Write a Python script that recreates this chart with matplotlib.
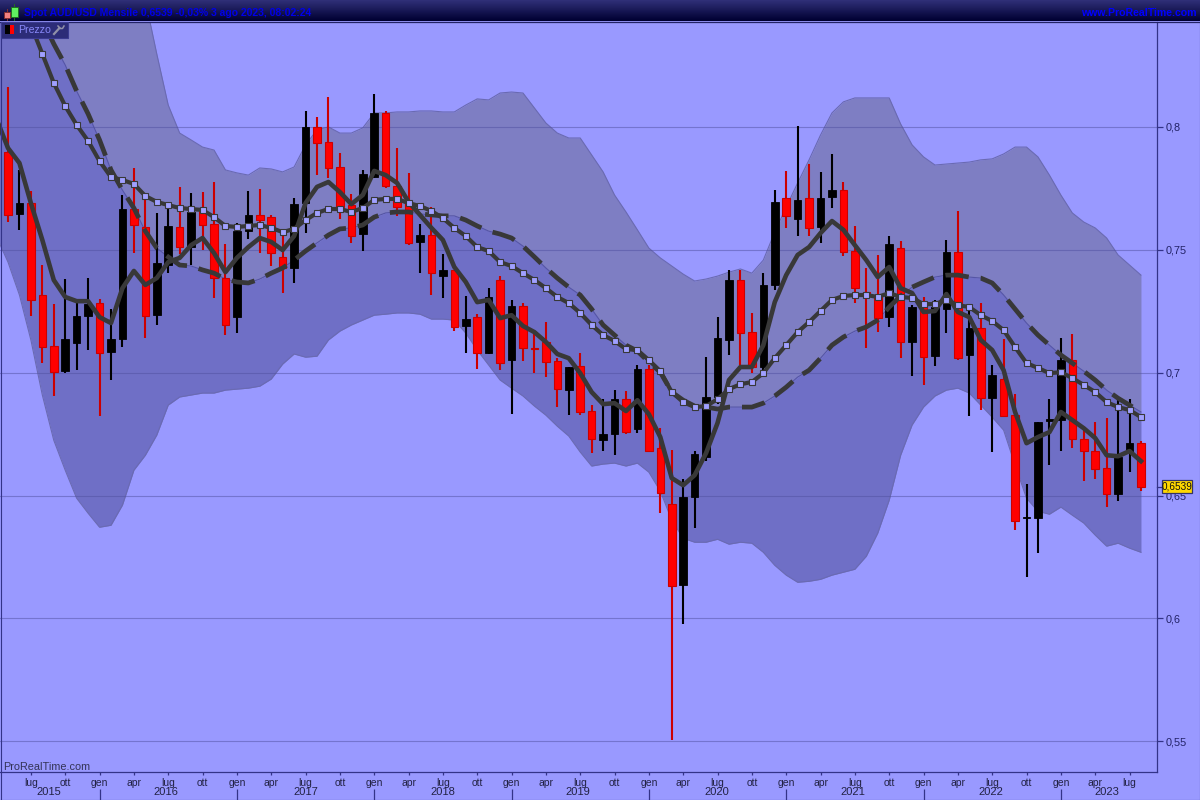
import numpy as np
import matplotlib
matplotlib.use("Agg")
import matplotlib.pyplot as plt
from matplotlib.patches import Rectangle

plt.rcParams["font.family"] = ["Liberation Sans", "DejaVu Sans"]

# monthly candles, May 2015 -> Aug 2023
opens = [.7898,.7646,.7690,.7316,.7108,.7006,.7120,.7230,.7283,.7084,.7137,.7666,.7593,.7234,.7438,.7593,.7511,.7658,.7605,.7385,
         .7226,.7576,.7642,.7633,.7471,.7426,.7690,.8000,.7939,.7837,.7682,.7564,.7796,.8057,.7760,.7690,.7532,.7560,.7393,.7418,
         .7190,.7226,.7080,.7377,.7051,.7271,.7100,.7125,.7047,.6929,.7027,.6844,.6725,.6750,.6892,.6770,.7015,.6693,.6465,.6135,
         .6493,.6656,.6900,.7133,.7377,.7165,.7023,.7357,.7711,.7625,.7711,.7593,.7715,.7743,.7495,.7328,.7308,.7226,.7507,.7125,
         .7283,.7067,.7259,.7491,.7072,.7181,.6896,.6974,.6827,.6408,.6408,.6803,.6807,.7051,.6730,.6681,.6611,.6506,.6677,.6713]
closes = [.7642,.7690,.7296,.7104,.7002,.7137,.7230,.7279,.7080,.7137,.7666,.7601,.7230,.7446,.7597,.7511,.7654,.7601,.7385,.7194,
          .7576,.7642,.7621,.7487,.7426,.7686,.8000,.7935,.7833,.7674,.7556,.7809,.8057,.7760,.7674,.7528,.7560,.7405,.7418,.7186,
          .7218,.7080,.7308,.7039,.7271,.7100,.7096,.7043,.6933,.7023,.6840,.6730,.6750,.6892,.6758,.7015,.6681,.6510,.6131,.6493,
          .6668,.6900,.7141,.7377,.7161,.7023,.7357,.7695,.7638,.7703,.7589,.7711,.7743,.7491,.7344,.7324,.7222,.7524,.7125,.7267,
          .7063,.7267,.7491,.7059,.7181,.6896,.6990,.6823,.6396,.6412,.6799,.6811,.7051,.6730,.6681,.6607,.6506,.6656,.6713,.6534]
highs = [.8163,.7825,.7739,.7438,.7279,.7381,.7296,.7385,.7300,.7259,.7723,.7833,.7707,.7650,.7674,.7756,.7731,.7735,.7776,.7524,
         .7609,.7739,.7747,.7642,.7556,.7711,.8065,.8041,.8122,.7894,.7727,.7825,.8134,.8065,.7914,.7813,.7605,.7674,.7483,.7418,
         .7312,.7238,.7344,.7393,.7296,.7283,.7173,.7206,.7059,.7023,.7080,.6868,.6892,.6929,.6925,.7031,.7031,.6774,.6685,.6567,
         .6681,.7063,.7226,.7418,.7418,.7243,.7405,.7743,.7821,.8004,.7849,.7817,.7890,.7776,.7597,.7426,.7479,.7556,.7536,.7275,
         .7308,.7296,.7540,.7658,.7255,.7283,.7031,.7137,.6913,.6546,.6799,.6892,.7141,.7157,.6766,.6799,.6815,.6900,.6892,.6721]
lows = [.7613,.7581,.7230,.7039,.6905,.6998,.7010,.7092,.6823,.6970,.7104,.7487,.7141,.7194,.7405,.7483,.7438,.7499,.7304,.7153,
        .7161,.7544,.7487,.7434,.7324,.7365,.7568,.7804,.7792,.7625,.7528,.7495,.7792,.7752,.7638,.7519,.7405,.7316,.7304,.7169,
        .7080,.7015,.7076,.7010,.6831,.7047,.6998,.6982,.6860,.6827,.6827,.6673,.6681,.6664,.6750,.6754,.6677,.6428,.5504,.5976,
        .6367,.6640,.6872,.7072,.7031,.6998,.6982,.7336,.7589,.7556,.7556,.7528,.7670,.7475,.7283,.7100,.7165,.7186,.7059,.6986,
        .6950,.7027,.7161,.7051,.6823,.6848,.6677,.6819,.6359,.6168,.6265,.6624,.6681,.6693,.6559,.6567,.6453,.6477,.6595,.6518]

# overlays start one month earlier (Apr 2015), off the left edge
fast_ma = [.8032,.7914,.7853,.7690,.7540,.7377,.7308,.7291,.7291,.7226,.7202,.7344,.7414,.7357,.7385,.7450,.7467,.7519,.7548,.7487,
           .7409,.7467,.7511,.7548,.7532,.7499,.7556,.7690,.7756,.7776,.7735,.7686,.7723,.7821,.7804,.7772,.7695,.7642,.7589,.7540,
           .7430,.7369,.7287,.7296,.7222,.7234,.7190,.7165,.7125,.7076,.7059,.6998,.6921,.6872,.6876,.6844,.6888,.6831,.6738,.6571,
           .6542,.6583,.6673,.6795,.6970,.7023,.7023,.7112,.7287,.7397,.7479,.7511,.7568,.7617,.7581,.7519,.7458,.7389,.7430,.7344,
           .7324,.7247,.7251,.7320,.7247,.7226,.7133,.7092,.7010,.6840,.6713,.6738,.6758,.6840,.6807,.6774,.6734,.6664,.6660,.6681,.6640]
mid_ma = [.8802,.8680,.8550,.8415,.8297,.8179,.8085,.8008,.7943,.7861,.7796,.7784,.7768,.7719,.7695,.7682,.7670,.7666,.7662,.7633,
          .7597,.7593,.7597,.7601,.7589,.7572,.7585,.7621,.7650,.7666,.7666,.7654,.7670,.7703,.7707,.7707,.7690,.7678,.7658,.7629,
          .7589,.7556,.7511,.7495,.7450,.7434,.7405,.7377,.7344,.7308,.7283,.7243,.7194,.7153,.7129,.7096,.7092,.7051,.7006,.6921,
          .6880,.6860,.6864,.6892,.6933,.6953,.6962,.6998,.7059,.7112,.7165,.7206,.7251,.7296,.7312,.7316,.7316,.7308,.7324,.7308,
          .7304,.7279,.7279,.7296,.7275,.7267,.7234,.7210,.7173,.7104,.7039,.7019,.6998,.7002,.6978,.6950,.6921,.6880,.6860,.6848,.6819]
slow_ma = [.8802,.8712,.8619,.8525,.8436,.8338,.8252,.8146,.8053,.7947,.7825,.7743,.7670,.7576,.7507,.7471,.7438,.7434,.7418,.7405,
           .7381,.7369,.7365,.7381,.7405,.7426,.7458,.7495,.7528,.7560,.7585,.7589,.7601,.7633,.7650,.7654,.7654,.7646,.7642,.7638,
           .7638,.7621,.7597,.7576,.7564,.7548,.7515,.7471,.7426,.7385,.7348,.7316,.7259,.7194,.7153,.7112,.7088,.7043,.7002,.6921,
           .6888,.6864,.6860,.6852,.6860,.6860,.6860,.6876,.6905,.6941,.6982,.7010,.7059,.7112,.7145,.7169,.7186,.7214,.7267,.7312,
           .7348,.7369,.7389,.7397,.7397,.7389,.7385,.7365,.7316,.7259,.7202,.7153,.7112,.7072,.7039,.7006,.6970,.6929,.6896,.6868,.6840]
upper_band = [.8900,.8761,.8761,.8761,.8761,.8761,.8761,.8761,.8761,.8761,.8761,.8761,.8680,.8517,.8297,.8089,.7975,.7947,.7918,.7906,
              .7825,.7813,.7804,.7833,.7829,.7817,.7837,.7927,.7988,.8000,.7975,.7975,.7996,.8057,.8057,.8061,.8061,.8065,.8065,.8061,
              .8061,.8089,.8114,.8110,.8138,.8142,.8138,.8077,.8016,.7975,.7955,.7955,.7886,.7817,.7723,.7654,.7581,.7507,.7467,.7434,
              .7401,.7373,.7381,.7393,.7409,.7422,.7405,.7458,.7572,.7674,.7772,.7866,.7967,.8057,.8102,.8118,.8118,.8118,.8118,.8012,
              .7927,.7878,.7845,.7849,.7853,.7857,.7866,.7870,.7890,.7918,.7918,.7878,.7804,.7723,.7650,.7613,.7589,.7548,.7479,.7438,.7397]
lower_band = [.7552,.7450,.7316,.7133,.6909,.6725,.6603,.6489,.6428,.6371,.6379,.6461,.6603,.6664,.6746,.6868,.6901,.6909,.6917,.6917,
              .6929,.6933,.6937,.6945,.6974,.7035,.7076,.7063,.7067,.7133,.7169,.7194,.7214,.7234,.7238,.7243,.7243,.7238,.7218,.7218,
              .7214,.7161,.7092,.7031,.6970,.6937,.6905,.6864,.6827,.6782,.6742,.6677,.6620,.6628,.6632,.6620,.6632,.6595,.6518,.6400,
              .6326,.6310,.6310,.6322,.6302,.6310,.6306,.6269,.6216,.6176,.6147,.6151,.6159,.6176,.6188,.6200,.6253,.6347,.6481,.6664,
              .6787,.6860,.6905,.6929,.6937,.6917,.6868,.6819,.6766,.6624,.6489,.6436,.6424,.6453,.6420,.6388,.6339,.6294,.6306,.6286,.6269]

price_ticks = [0.55, 0.6, 0.65, 0.7, 0.75, 0.8]
price_labels = ["0,55", "0,6", "0,65", "0,7", "0,75", "0,8"]
month_pos = list(range(2, 99, 3))
month_labels = (["lug", "ott", "gen", "apr"] * 9)[:len(month_pos)]
year_labels = ["2015", "2016", "2017", "2018", "2019", "2020", "2021", "2022", "2023"]
year_pos = [3.6, 13.8, 26, 38, 49.8, 61.9, 73.8, 85.9, 96]
year_breaks = [8, 20, 32, 44, 56, 68, 80, 92]
last_price = 0.6539

BG = "#9999FF"
NAVY = "#333388"
DARK = "#383838"

W, H = 1200, 800
fig = plt.figure(figsize=(12, 8), dpi=100, facecolor=BG)

# price panel, placed by pixels
ax = fig.add_axes([0, (H - 772) / H, 1157 / W, 750 / H], facecolor=BG)

x_c = np.arange(len(opens))
x_o = np.arange(-1, len(opens))
opens, closes, highs, lows = map(np.array, (opens, closes, highs, lows))
up = closes >= opens

ax.fill_between(x_o, slow_ma, upper_band, color="#7E7EC3", lw=0, zorder=1)
ax.fill_between(x_o, lower_band, slow_ma, color="#6F6FC6", lw=0, zorder=1)
ax.plot(x_o, upper_band, color="#6A6AB2", lw=0.8, zorder=1.5)
ax.plot(x_o, lower_band, color="#6A6AB2", lw=0.8, zorder=1.5)
ax.plot(x_o, slow_ma, color="#5555A5", lw=0.8, zorder=1.5)

for v in price_ticks:
    ax.axhline(v, color="#5050A0", lw=0.8, alpha=0.5, zorder=2)

ax.vlines(x_c[up], lows[up], highs[up], color="black", lw=1.5, zorder=3)
ax.vlines(x_c[~up], lows[~up], highs[~up], color="#CC0000", lw=1.5, zorder=3)
ax.bar(x_c[up], (closes - opens)[up], bottom=opens[up], width=0.66,
       color="black", edgecolor="black", lw=0.6, zorder=4)
ax.bar(x_c[~up], (opens - closes)[~up], bottom=closes[~up], width=0.66,
       color="#FF0000", edgecolor="#CC0000", lw=0.8, zorder=4)

ax.plot(x_o, slow_ma, color=DARK, lw=3.4, linestyle=(5.8, (4.97, 2.54)),
        dash_capstyle="butt", zorder=5)
ax.plot(x_o, fast_ma, color=DARK, lw=3.3, solid_joinstyle="round", zorder=6)
ax.plot(x_o, mid_ma, color=DARK, lw=3.0, zorder=7)
ax.plot(x_o[1:], mid_ma[1:], ls="none", marker="s", ms=3.8, mfc="#A0A0FF", mec=DARK, mew=0.8, zorder=8)

ax.set_xlim(-8 / 11.444, (1157 - 8) / 11.444)
ax.set_ylim(0.5375, 0.8427)

for s in ["top", "left"]:
    ax.spines[s].set_visible(False)
for s in ["bottom", "right"]:
    ax.spines[s].set_color(NAVY)
    ax.spines[s].set_linewidth(0.9)

ax.yaxis.tick_right()
ax.set_yticks(price_ticks, price_labels)
ax.tick_params(axis="y", length=4, width=0.9, color=NAVY, pad=2, labelsize=7.8, labelcolor="#222266")
ax.set_xticks(month_pos, month_labels)
ax.tick_params(axis="x", length=2, width=0.9, color=NAVY, pad=2.5, labelsize=7.5, labelcolor="#222244")

ytrans = ax.get_xaxis_transform()
for lab, p in zip(year_labels, year_pos):
    ax.text(p, -0.0267, lab, transform=ytrans, ha="center", va="center", fontsize=8, color="#222244", clip_on=False)
ax.vlines(year_breaks, -0.0372, -0.0227, transform=ytrans, color=NAVY, lw=0.9, clip_on=False)

# chrome: header, legend chip, price tag, in pixels
top = fig.add_axes([0, 0, 1, 1], facecolor="none")
top.axis("off")

grad = np.linspace(0, 1, 22)[:, None, None] * np.array([[[-48, -48, -70]]]) + np.array([[[48, 48, 120]]])
top.imshow(grad.astype(np.uint8), extent=[0, W, 21, 0], aspect="auto", zorder=1)
top.set_xlim(0, W)
top.set_ylim(H, 0)
top.plot([0, W], [21.5, 21.5], color="#222266", lw=0.9, zorder=2)
top.plot([0.5, 0.5], [22, H], color=NAVY, lw=0.8, zorder=2)
top.plot([0, W], [799.5, 799.5], color=NAVY, lw=0.8, zorder=2)
top.plot([1199.5, 1199.5], [22, H], color=NAVY, lw=0.8, zorder=2)

top.text(24, 12.5, "Spot AUD/USD Mensile 0,6539 -0,03% 3 ago 2023, 08:02:24", color="#0000E8",
         fontsize=7.5, fontweight="bold", va="center", ha="left", zorder=3)
top.text(1197, 12.5, "www.ProRealTime.com", color="#0000FF", fontsize=7.6, fontweight="bold",
         va="center", ha="right", zorder=3)

# little candle icon
top.add_patch(Rectangle((3.5, 11.5), 6, 6, fc="#F08080", ec="#803030", lw=0.7, zorder=3))
top.plot([6.5, 6.5], [9, 20], color="#803030", lw=0.7, zorder=2.9)
top.add_patch(Rectangle((11, 7), 6.5, 9.5, fc="#60F060", ec="#207020", lw=0.7, zorder=3))
top.plot([14.2, 14.2], [4, 20], color="#207020", lw=0.7, zorder=2.9)

top.add_patch(Rectangle((1, 22), 66.5, 15.5, fc="#2C2C78", ec="#3A3A90", lw=0.8, zorder=3))
top.add_patch(Rectangle((5, 25), 4.5, 9, fc="black", lw=0, zorder=4))
top.add_patch(Rectangle((9.5, 25), 4.5, 9, fc="#FF0000", lw=0, zorder=4))
top.text(18, 30, "Prezzo", color="#8888F8", fontsize=7.6, va="center", ha="left", zorder=4)
top.plot([54, 59.5], [34, 28], color="#9090A8", lw=1.6, zorder=4)
top.plot([58, 60, 62.5, 64], [26, 28.5, 28.5, 26], color="#9090A8", lw=1.1, zorder=4)

top.text(3, 767, "ProRealTime.com", color="#333355", fontsize=7.8, va="center", ha="left", zorder=4)

top.add_patch(Rectangle((1161.5, 480), 30.5, 13, fc="#FFD700", ec="#333366", lw=0.9, zorder=5))
top.plot([1157, 1161], [487, 487], color=NAVY, lw=0.9, zorder=5)
top.text(1176.7, 486.7, "0,6539", color="#111111", fontsize=7.2, va="center", ha="center", zorder=6)

fig.savefig("out.png", dpi=100, facecolor=BG)
